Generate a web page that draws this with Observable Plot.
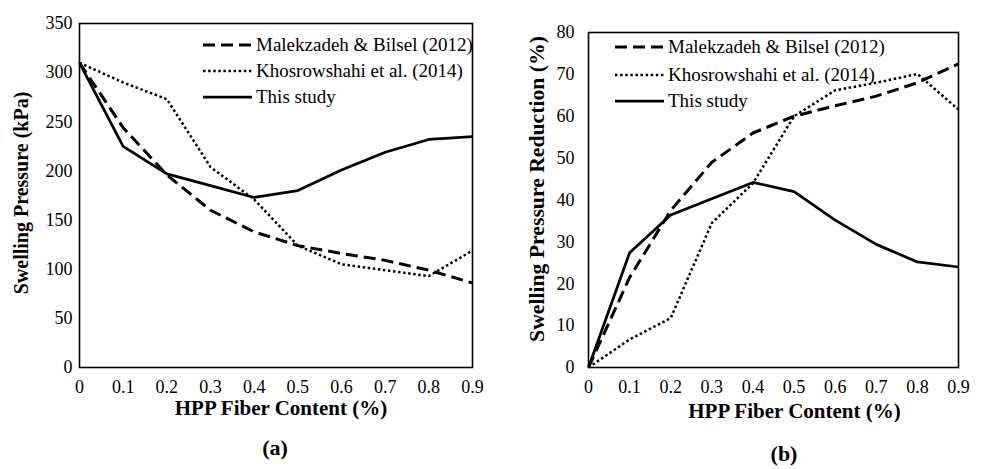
<!DOCTYPE html>
<html>
<head>
<meta charset="utf-8">
<script src="https://cdn.jsdelivr.net/npm/d3@7"></script>
<script src="https://cdn.jsdelivr.net/npm/@observablehq/plot@0.6"></script>
<style>
  body { margin: 0; background: #fff; }
  #fig { position: relative; width: 984px; height: 469px; font-family: "Liberation Serif", "Times New Roman", serif; color: #000; }
  .panel { position: absolute; top: 0; }
  .tag { position: absolute; font-weight: bold; font-size: 22px; transform: translate(-50%, -50%); white-space: nowrap; }
  .legend { position: absolute; top: 0; overflow: visible; }
</style>
</head>
<body>
<div id="fig"></div>
<script>
// HPP fiber content (%) shared by every series
const fiber = [0, 0.1, 0.2, 0.3, 0.4, 0.5, 0.6, 0.7, 0.8, 0.9];

const seriesNames = ["Malekzadeh & Bilsel (2012)", "Khosrowshahi et al. (2014)", "This study"];

// (a) swelling pressure, kPa
const pressureMalekzadeh = [310, 244, 196, 160, 138, 124, 116, 109, 99, 86];
const pressureKhosrowshahi = [310, 290, 273, 204, 171, 124, 105, 99, 93, 119];
const pressureThisStudy = [310, 225, 197, 185, 173, 180, 201, 219, 232, 235];

// (b) swelling pressure reduction, %
const reductionMalekzadeh = [0, 21.5, 37.5, 49, 56, 60, 62.5, 64.8, 68, 72.5];
const reductionKhosrowshahi = [0, 6.7, 11.8, 34.5, 44, 60, 66.2, 68, 70.1, 61.6];
const reductionThisStudy = [0, 27.4, 36.4, 40.3, 44.2, 42, 35.2, 29.4, 25.2, 24];

const pressureTicks = [0, 50, 100, 150, 200, 250, 300, 350];
const reductionTicks = [0, 10, 20, 30, 40, 50, 60, 70, 80];

const xTitle = "HPP Fiber Content (%)";
const yTitleA = "Swelling Pressure (kPa)";
const yTitleB = "Swelling Pressure Reduction (%)";

const serif = "Liberation Serif, Times New Roman, serif";

// line style per series, in seriesNames order
const styles = [
  {strokeWidth: 3, strokeDasharray: "12,6"},
  {strokeWidth: 2.5, strokeDasharray: "2.5,2.6"},
  {strokeWidth: 2.75, strokeDasharray: null}
];

const rows = (values) => fiber.map((f, i) => ({fiber: f, value: values[i]}));

function panel({seriesValues, ticks, yMax, yTitle, yTitleSize, marginLeft, marginRight, marginTop, yTickPadding, xTitleDx, xTitleDy, yTitleDx, yTitleDy}) {
  const lines = seriesValues.map((vals, i) =>
    Plot.line(rows(vals), {
      x: "fiber", y: "value", stroke: "black",
      strokeWidth: styles[i].strokeWidth,
      strokeDasharray: styles[i].strokeDasharray || undefined,
      strokeLinecap: "butt",
      strokeLinejoin: "round"
    })
  );
  return Plot.plot({
    width: 492,
    height: 430,
    marginLeft, marginRight, marginTop,
    marginBottom: 63,
    style: {fontFamily: serif, fontSize: "18px", color: "black", background: "white", overflow: "visible"},
    x: {domain: [0, 0.9], ticks: fiber, tickFormat: (d) => String(d), label: null},
    y: {domain: [0, yMax], ticks, tickFormat: (d) => String(d), label: null},
    marks: [
      Plot.axisX({ticks: fiber, tickSize: 0, tickPadding: 13, tickFormat: (d) => String(d), label: null, fill: "black"}),
      Plot.axisY({ticks, tickSize: 0, tickPadding: yTickPadding, tickFormat: (d) => String(d), label: null, fill: "black"}),
      ...lines,
      Plot.frame({stroke: "black", strokeWidth: 1.6}),
      Plot.text([xTitle], {text: (d) => d, frameAnchor: "bottom", dy: xTitleDy, dx: xTitleDx, fontWeight: "bold", fontSize: 21, fontFamily: serif, fill: "black"}),
      Plot.text([yTitle], {text: (d) => d, frameAnchor: "left", textAnchor: "middle", rotate: -90, dx: yTitleDx, dy: yTitleDy, fontWeight: "bold", fontSize: yTitleSize, fontFamily: serif, fill: "black"})
    ]
  });
}

function legend(x0, rowsY) {
  const svg = d3.create("svg").attr("class", "legend").attr("width", 492).attr("height", 130)
    .style("left", "0px");
  seriesNames.forEach((name, i) => {
    const g = svg.append("g");
    g.append("line")
      .attr("x1", x0).attr("x2", x0 + 49).attr("y1", rowsY[i]).attr("y2", rowsY[i])
      .attr("stroke", "black")
      .attr("stroke-width", styles[i].strokeWidth)
      .attr("stroke-dasharray", styles[i].strokeDasharray)
      .attr("stroke-linecap", "butt");
    g.append("text")
      .attr("x", x0 + 53).attr("y", rowsY[i]).attr("dy", "0.34em")
      .attr("font-family", serif)
      .attr("font-size", 19).attr("fill", "black")
      .text(name);
  });
  return svg.node();
}

const fig = document.getElementById("fig");

const a = document.createElement("div");
a.className = "panel";
a.style.left = "0px";
a.appendChild(panel({
  seriesValues: [pressureMalekzadeh, pressureKhosrowshahi, pressureThisStudy],
  ticks: pressureTicks, yMax: 350, yTitle: yTitleA, yTitleSize: 20,
  marginLeft: 79, marginRight: 20, marginTop: 23, yTickPadding: 7,
  xTitleDx: 5, xTitleDy: 47, yTitleDx: -57.5, yTitleDy: -2.5
}));
a.appendChild(legend(203, [45, 71, 97]));
fig.appendChild(a);

const b = document.createElement("div");
b.className = "panel";
b.style.left = "492px";
b.appendChild(panel({
  seriesValues: [reductionMalekzadeh, reductionKhosrowshahi, reductionThisStudy],
  ticks: reductionTicks, yMax: 80, yTitle: yTitleB, yTitleSize: 21.7,
  marginLeft: 96, marginRight: 26, marginTop: 32, yTickPadding: 14,
  xTitleDx: 21, xTitleDy: 50.5, yTitleDx: -51, yTitleDy: -11
}));
b.appendChild(legend(123, [47, 75, 101]));
fig.appendChild(b);

const tagA = document.createElement("div");
tagA.className = "tag"; tagA.textContent = "(a)";
tagA.style.left = "275px"; tagA.style.top = "448px";
fig.appendChild(tagA);

const tagB = document.createElement("div");
tagB.className = "tag"; tagB.textContent = "(b)";
tagB.style.left = "784px"; tagB.style.top = "454px";
fig.appendChild(tagB);
</script>
</body>
</html>
